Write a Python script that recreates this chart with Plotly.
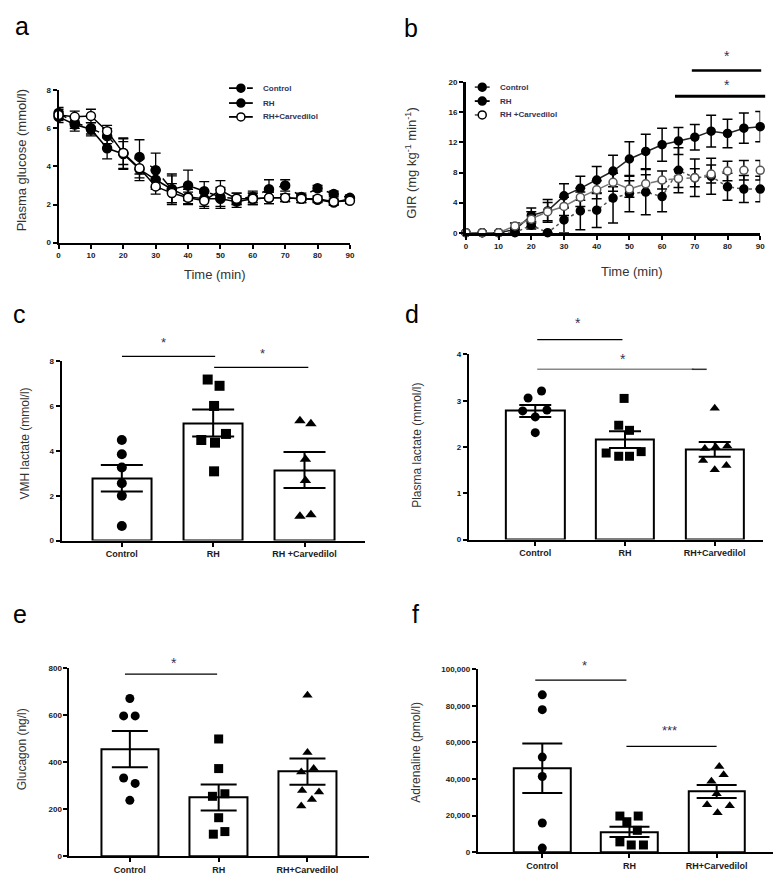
import plotly.graph_objects as go

W, H = 781, 879

# ---------------- data ----------------
time_min = [0, 5, 10, 15, 20, 25, 30, 35, 40, 45, 50, 55, 60, 65, 70, 75, 80, 85, 90]

# panel a: plasma glucose (mmol/l)
a_ctrl = [6.8, 6.3, 6.0, 5.6, 4.7, 4.5, 3.8, 2.8, 3.0, 2.7, 2.4, 2.3, 2.4, 2.8, 3.0, 2.4, 2.85, 2.55, 2.35]
a_ctrl_sem = [0.3, 0.3, 0.3, 0.4, 0.8, 0.9, 0.9, 0.8, 0.8, 0.5, 0.5, 0.3, 0.3, 0.5, 0.3, 0.2, 0.15, 0.15, 0.15]
a_rh = [6.6, 6.2, 5.95, 4.95, 4.65, 3.85, 3.3, 2.8, 2.4, 2.3, 2.3, 2.15, 2.3, 2.35, 2.35, 2.3, 2.25, 2.1, 2.3]
a_rh_sem = [0.3, 0.35, 0.35, 0.55, 0.8, 0.6, 0.5, 0.7, 0.4, 0.4, 0.5, 0.3, 0.3, 0.3, 0.2, 0.2, 0.15, 0.15, 0.15]
a_carv = [6.7, 6.6, 6.65, 5.85, 4.7, 3.9, 2.95, 2.6, 2.35, 2.2, 2.75, 2.3, 2.3, 2.35, 2.35, 2.3, 2.3, 2.15, 2.2]
a_carv_sem = [0.3, 0.3, 0.35, 0.3, 0.6, 0.5, 0.4, 0.5, 0.3, 0.4, 0.5, 0.3, 0.3, 0.3, 0.2, 0.2, 0.15, 0.15, 0.15]

# panel b: GIR (mg kg-1 min-1)
b_ctrl = [0, 0, 0, 0, 1.0, 0, 1.7, 2.9, 3.0, 4.6, 5.2, 5.4, 4.8, 8.3, 7.3, 7.5, 6.1, 5.8, 5.8]
b_ctrl_sem = [0, 0, 0, 0, 0.5, 0, 1.7, 2.5, 2.3, 3.3, 2.4, 3.0, 2.0, 3.0, 2.5, 2.4, 1.8, 1.8, 1.7]
b_rh = [0, 0, 0, 0.4, 2.3, 2.9, 4.9, 5.9, 7.0, 8.2, 9.8, 10.8, 11.7, 12.2, 12.7, 13.5, 13.2, 13.9, 14.1]
b_rh_sem = [0, 0, 0, 0.3, 1.0, 1.5, 1.6, 1.6, 1.8, 2.1, 2.3, 2.3, 2.2, 1.8, 1.7, 2.1, 1.9, 2.0, 2.0]
b_carv = [0, 0, 0, 0.9, 1.8, 2.8, 3.5, 4.7, 5.7, 6.7, 5.8, 6.5, 7.0, 7.2, 7.3, 7.8, 8.2, 8.3, 8.3]
b_carv_sem = [0, 0, 0, 0.4, 1.0, 1.2, 1.2, 1.2, 1.2, 1.2, 1.1, 1.2, 1.2, 1.2, 1.2, 1.2, 1.3, 1.3, 1.3]

legend_a = ["Control", "RH", "RH+Carvedilol"]
legend_b = ["Control", "RH", "RH +Carvedilol"]
groups = ["Control", "RH", "RH+Carvedilol"]
groups_c = ["Control", "RH", "RH +Carvedilol"]

# panel c: VMH lactate (mmol/l)
c_mean = [2.78, 5.25, 3.15]
c_sem = [0.59, 0.6, 0.8]
c_ctrl = [4.49, 3.85, 3.26, 2.56, 2.0, 0.65]
c_rh = [7.19, 6.91, 6.01, 4.49, 4.37, 4.76, 3.09]
c_carv = [5.35, 5.22, 3.63, 2.68, 1.09, 1.15]
c_ctrl_jit = [0, 0, 0, 0, 0, 0]
c_rh_jit = [-0.06, 0.07, 0.01, -0.13, 0.02, 0.14, 0.01]
c_carv_jit = [-0.05, 0.07, 0.01, 0.01, -0.05, 0.07]

# panel d: plasma lactate (mmol/l)
d_mean = [2.78, 2.16, 1.95]
d_sem = [0.13, 0.18, 0.16]
d_ctrl = [3.21, 3.06, 2.78, 2.80, 2.65, 2.31]
d_rh = [3.05, 2.47, 2.36, 1.87, 1.80, 1.80, 1.90]
d_carv = [2.84, 1.97, 2.0, 2.02, 1.71, 1.51, 1.60]
d_ctrl_jit = [0.07, -0.08, -0.14, 0.13, 0.0, 0.0]
d_rh_jit = [-0.01, -0.07, 0.05, -0.21, -0.07, 0.05, 0.18]
d_carv_jit = [0.0, -0.11, 0.01, 0.14, -0.13, 0.0, 0.13]

# panel e: glucagon (ng/l)
e_mean = [456, 250, 360]
e_sem = [77, 55, 56]
e_ctrl = [671, 597, 597, 333, 310, 238]
e_rh = [499, 373, 255, 266, 164, 94, 105]
e_carv = [685, 441, 359, 373, 280, 273, 242, 214]
e_ctrl_jit = [0.0, -0.07, 0.06, -0.07, 0.06, 0.0]
e_rh_jit = [0.0, 0.0, -0.07, 0.07, 0.0, -0.06, 0.07]
e_carv_jit = [0.0, 0.0, -0.07, 0.07, -0.06, 0.13, 0.05, -0.07]

# panel f: adrenaline (pmol/l)
f_mean = [45900, 11200, 33200]
f_sem = [13500, 2800, 3600]
f_ctrl = [86000, 77900, 52000, 41400, 16000, 2300]
f_rh = [19800, 19800, 16700, 12000, 5700, 4000, 4000]
f_carv = [46800, 42400, 38800, 32000, 26000, 25400, 21600]
f_ctrl_jit = [0, 0, 0, 0, 0, 0, 0]
f_rh_jit = [-0.11, 0.10, -0.03, 0.09, -0.11, 0.02, 0.16]
f_carv_jit = [0.03, 0.08, -0.06, 0.0, -0.11, 0.15, 0.01]

# ---------------- helpers ----------------
def dx(x0, x1):
    return [x0 / W, x1 / W]

def dy(top, bottom):
    return [1 - bottom / H, 1 - top / H]

def px(x, y):
    return x / W, 1 - y / H

FONT = "Arial"
TICKC = "#1a1a1a"
TITLEC = "#333333"
STARC = "#333355"

fig = go.Figure()

def axis_common(lw=2):
    return dict(showline=True, linecolor="black", linewidth=lw, ticks="outside",
                ticklen=4, tickwidth=1.5, tickcolor="black", showgrid=False,
                zeroline=False, mirror=False,
                tickfont=dict(family=FONT, size=8, color=TICKC, weight="bold"))

def marker_style(filled, size, edge="black"):
    return dict(symbol="circle", size=size, color="black" if filled else "white",
                line=dict(color=edge, width=1.5))

# ---------- panel a ----------
a_styles = [("dash", True), ("solid", True), ("solid", False)]
for name, y, e, (dash, filled) in zip(legend_a, [a_ctrl, a_rh, a_carv], [a_ctrl_sem, a_rh_sem, a_carv_sem], a_styles):
    fig.add_trace(go.Scatter(
        x=time_min, y=y, name=name, mode="lines+markers", xaxis="x", yaxis="y",
        line=dict(color="black", width=1.5, dash=dash),
        marker=marker_style(filled, 9),
        error_y=dict(type="data", array=e, color="black", thickness=1.3, width=5),
        cliponaxis=False, showlegend=False))

# ---------- panel b ----------
b_styles = [("dot", "#555555", True), ("solid", "#222222", True), ("dash", "#777777", False)]
for name, y, e, (dash, col, filled) in zip(legend_b, [b_ctrl, b_rh, b_carv], [b_ctrl_sem, b_rh_sem, b_carv_sem], b_styles):
    fig.add_trace(go.Scatter(
        x=time_min, y=y, name=name, mode="lines+markers", xaxis="x2", yaxis="y2",
        line=dict(color=col, width=1.5, dash=dash),
        marker=marker_style(filled, 8, "black" if filled else "#555555"),
        error_y=dict(type="data", array=e, color="black", thickness=1.5, width=5),
        cliponaxis=False, showlegend=False))

# ---------- bar panels ----------
def bar_panel(xa, ya, means, sems, pts, jits, msize, capw):
    fig.add_trace(go.Bar(
        x=[0, 1, 2], y=means, xaxis=xa, yaxis=ya, width=0.65,
        marker=dict(color="white", line=dict(color="black", width=2)),
        error_y=dict(type="data", array=sems, color="black", thickness=2, width=capw),
        showlegend=False))
    for i, (vals, jit, sym) in enumerate(zip(pts, jits, ["circle", "square", "triangle-up"])):
        fig.add_trace(go.Scatter(
            x=[i + j for j in jit], y=vals, mode="markers", xaxis=xa, yaxis=ya,
            marker=dict(symbol=sym, size=msize, color="black"),
            cliponaxis=False, showlegend=False))

bar_panel("x3", "y3", c_mean, c_sem, [c_ctrl, c_rh, c_carv], [c_ctrl_jit, c_rh_jit, c_carv_jit], 10, 21)
bar_panel("x4", "y4", d_mean, d_sem, [d_ctrl, d_rh, d_carv], [d_ctrl_jit, d_rh_jit, d_carv_jit], 9, 16)
bar_panel("x5", "y5", e_mean, e_sem, [e_ctrl, e_rh, e_carv], [e_ctrl_jit, e_rh_jit, e_carv_jit], 9, 18)
bar_panel("x6", "y6", f_mean, f_sem, [f_ctrl, f_rh, f_carv], [f_ctrl_jit, f_rh_jit, f_carv_jit], 9, 20)

# ---------- manual legends (pixel overlay axis) ----------
def legend_block(names, styles_line, fills, x_line, x_text, rows):
    for name, (dash, col), filled, yrow in zip(names, styles_line, fills, rows):
        fig.add_trace(go.Scatter(
            x=[x_line[0], x_line[1]], y=[yrow, yrow], mode="lines", xaxis="x7", yaxis="y7",
            line=dict(color=col, width=1.8, dash=dash), showlegend=False, hoverinfo="skip"))
        fig.add_trace(go.Scatter(
            x=[(x_line[0] + x_line[1]) / 2], y=[yrow], mode="markers", xaxis="x7", yaxis="y7",
            marker=marker_style(filled, 8), showlegend=False, hoverinfo="skip"))
        xp, yp = px(x_text, yrow)
        fig.add_annotation(x=xp, y=yp, xref="paper", yref="paper", text=name, showarrow=False,
                           xanchor="left", yanchor="middle",
                           font=dict(family=FONT, size=8, color=STARC, weight="bold"))

legend_block(legend_a, [("dash", "black"), ("solid", "black"), ("solid", "black")],
             [True, True, False], (221, 245), 253, [77, 92, 106])
legend_block(legend_b, [("dot", "#444444"), ("solid", "black"), ("dash", "#666666")],
             [True, True, False], (469, 484), 492, [76, 90, 104])

# ---------- axes ----------
cat_font = dict(family=FONT, size=9, color=TICKC, weight="bold")

layout = dict(
    width=W, height=H, margin=dict(l=0, r=0, t=0, b=0),
    paper_bgcolor="white", plot_bgcolor="rgba(0,0,0,0)", showlegend=False, bargap=0,
    xaxis=dict(axis_common(2), domain=dx(49, 343), range=[0, 90], tickvals=list(range(0, 91, 10)), anchor="y"),
    yaxis=dict(axis_common(2), domain=dy(79, 233), range=[0, 8], tickvals=[0, 2, 4, 6, 8], anchor="x"),
    xaxis2=dict(axis_common(3), domain=dx(460, 757), range=[0, 90], tickvals=list(range(0, 91, 10)), anchor="y2"),
    yaxis2=dict(axis_common(2.5), domain=dy(71, 223), range=[0, 20], tickvals=[0, 4, 8, 12, 16, 20], anchor="x2"),
    xaxis3=dict(axis_common(2), domain=dx(52, 358), range=[-0.66, 2.66], tickvals=[0, 1, 2], ticktext=groups_c, anchor="y3"),
    yaxis3=dict(axis_common(2), domain=dy(353, 534), range=[0, 8], tickvals=[0, 2, 4, 6, 8], anchor="x3"),
    xaxis4=dict(axis_common(2), domain=dx(463, 760), range=[-0.74, 2.54], tickvals=[0, 1, 2], ticktext=groups, anchor="y4"),
    yaxis4=dict(axis_common(2), domain=dy(346, 533), range=[0, 4], tickvals=[0, 1, 2, 3, 4], anchor="x4"),
    xaxis5=dict(axis_common(2), domain=dx(60, 362), range=[-0.68, 2.69], tickvals=[0, 1, 2], ticktext=groups, anchor="y5"),
    yaxis5=dict(axis_common(2), domain=dy(663, 853), range=[0, 800], tickvals=[0, 200, 400, 600, 800], anchor="x5"),
    xaxis6=dict(axis_common(2), domain=dx(472, 772), range=[-0.74, 2.67], tickvals=[0, 1, 2], ticktext=groups, anchor="y6"),
    yaxis6=dict(axis_common(2), domain=dy(664, 849), range=[0, 100000], tickvals=[0, 20000, 40000, 60000, 80000, 100000],
                tickformat=",d", anchor="x6"),
    xaxis7=dict(domain=[0, 1], range=[0, W], visible=False, anchor="y7", fixedrange=True),
    yaxis7=dict(domain=[0, 1], range=[H, 0], visible=False, anchor="x7", fixedrange=True),
)
for k in ["xaxis3", "xaxis4", "xaxis5", "xaxis6"]:
    layout[k]["tickfont"] = cat_font
fig.update_layout(**layout)

# ---------- annotations: letters, axis titles, significance ----------
def text(x, y, t, size, angle=0, color=TITLEC, weight="normal"):
    xp, yp = px(x, y)
    fig.add_annotation(x=xp, y=yp, xref="paper", yref="paper", text=t, showarrow=False,
                       textangle=angle, xanchor="center", yanchor="middle",
                       font=dict(family=FONT, size=size, color=color, weight=weight))

for letter, (lx, ly) in {"a": (12, 14), "b": (405, 16), "c": (10, 305), "d": (406, 305),
                         "e": (10, 608), "f": (409, 608)}.items():
    text(lx, ly, letter, 25, color="black")

text(207, 265, "Time (min)", 13)
text(628, 262, "Time (min)", 13)
text(12, 150, "Plasma glucose (mmol/l)", 13, -90)
text(405, 152, "GIR (mg kg<sup>-1</sup> min<sup>-1</sup>)", 13, -90)
text(15, 436, "VMH lactate (mmol/l)", 12, -90)
text(410, 438, "Plasma lactate (mmol/l)", 12, -90)
text(12, 745, "Glucagon (ng/l)", 12, -90)
text(410, 748, "Adrenaline (pmol/l)", 12, -90)

def hline(x0, x1, y, color="black", width=1.3):
    a0, b0 = px(x0, y)
    a1, _ = px(x1, y)
    fig.add_shape(type="line", xref="paper", yref="paper", x0=a0, x1=a1, y0=b0, y1=b0,
                  line=dict(color=color, width=width))

# b
hline(688, 758, 59, width=2.5); text(723, 44, "*", 14, color=STARC)
hline(671, 762, 85, width=3);   text(723, 74, "*", 14, color=STARC)
# c
hline(113, 207, 348); text(155, 334, "*", 13, color=STARC)
hline(206, 301, 359); text(255, 345, "*", 13, color=STARC)
# d
hline(532, 690, 361, color="#888888", width=1.5); hline(688, 703, 361, color="#333333", width=1.5)
hline(532, 618, 331); text(573, 314, "*", 14, color=STARC)
text(619, 351, "*", 14, color=STARC)
# e
hline(116, 209, 669); text(165, 658, "*", 14, color=STARC)
# f
hline(530, 622, 675); text(580, 660, "*", 13, color=STARC)
hline(622, 713, 742); text(665, 726, "***", 13, color=STARC)

fig.write_html("out.html")
